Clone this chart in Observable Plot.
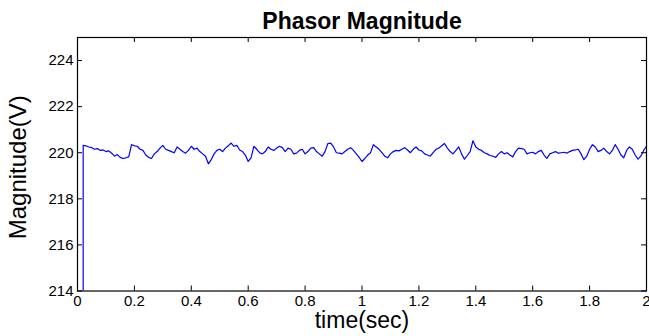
<!DOCTYPE html>
<html><head><meta charset="utf-8">
<script src="https://cdn.jsdelivr.net/npm/d3@7"></script>
<script src="https://cdn.jsdelivr.net/npm/@observablehq/plot@0.6"></script>
<style>body{margin:0;background:#fff} svg{display:block}</style>
</head><body><div id="chart"></div>
<script>
const times = [0.019,
0.02,0.03,0.04,0.05,0.06,0.07,0.08,0.09,0.10,
0.11,0.12,0.13,0.14,0.15,0.16,0.17,0.18,0.19,0.20,
0.21,0.22,0.23,0.24,0.25,0.26,0.27,0.28,0.29,0.30,
0.31,0.32,0.33,0.34,0.35,0.36,0.37,0.38,0.39,0.40,
0.41,0.42,0.43,0.44,0.45,0.46,0.47,0.48,0.49,0.50,
0.51,0.52,0.53,0.54,0.55,0.56,0.57,0.58,0.59,0.60,
0.61,0.62,0.63,0.64,0.65,0.66,0.67,0.68,0.69,0.70,
0.71,0.72,0.73,0.74,0.75,0.76,0.77,0.78,0.79,0.80,
0.81,0.82,0.83,0.84,0.85,0.86,0.87,0.88,0.89,0.90,
0.91,0.92,0.93,0.94,0.95,0.96,0.97,0.98,0.99,1.00,
1.01,1.02,1.03,1.04,1.05,1.06,1.07,1.08,1.09,1.10,
1.11,1.12,1.13,1.14,1.15,1.16,1.17,1.18,1.19,1.20,
1.21,1.22,1.23,1.24,1.25,1.26,1.27,1.28,1.29,1.30,
1.31,1.32,1.33,1.34,1.35,1.36,1.37,1.38,1.39,1.40,
1.41,1.42,1.43,1.44,1.45,1.46,1.47,1.48,1.49,1.50,
1.51,1.52,1.53,1.54,1.55,1.56,1.57,1.58,1.59,1.60,
1.61,1.62,1.63,1.64,1.65,1.66,1.67,1.68,1.69,1.70,
1.71,1.72,1.73,1.74,1.75,1.76,1.77,1.78,1.79,1.80,
1.81,1.82,1.83,1.84,1.85,1.86,1.87,1.88,1.89,1.90,
1.91,1.92,1.93,1.94,1.95,1.96,1.97,1.98,1.99,2.00];

const magnitude = [0,
220.32,220.30,220.25,220.22,220.15,220.18,220.10,220.12,220.05,
220.08,219.98,219.85,219.92,219.80,219.75,219.78,219.82,220.35,220.30,
220.28,220.15,220.10,219.90,219.80,219.75,219.95,220.05,220.20,220.32,
220.15,220.10,220.05,220.00,220.25,220.15,220.05,219.98,220.10,220.28,
220.15,220.20,220.05,219.95,219.85,219.52,219.70,219.95,220.10,220.15,
220.05,220.20,220.30,220.42,220.28,220.32,220.12,220.05,219.90,219.62,
219.78,220.28,220.15,220.00,219.95,220.05,220.25,220.15,220.10,220.20,
220.28,220.22,220.05,220.20,220.15,219.95,219.98,220.10,220.15,219.95,
220.05,220.20,220.22,220.05,219.95,219.85,220.05,220.40,220.42,220.25,
220.00,219.98,219.95,220.05,220.15,220.22,220.10,219.95,219.80,219.62,
219.75,219.90,220.00,220.35,220.25,220.15,220.00,219.85,219.78,219.95,
220.05,220.10,220.08,220.15,220.22,220.12,220.00,220.15,220.25,220.12,
220.08,219.95,219.90,219.85,220.00,220.15,220.20,220.30,220.40,220.20,
220.05,219.95,220.10,220.25,219.95,219.72,219.88,220.05,220.52,220.25,
220.15,220.10,220.00,219.95,219.88,219.85,219.80,219.95,220.05,219.95,
220.00,219.90,219.82,220.05,220.20,220.18,220.15,219.95,220.00,220.02,
219.95,220.05,220.10,219.90,219.75,219.95,220.00,220.05,219.98,220.00,
220.02,219.98,220.05,220.10,220.12,220.15,219.95,219.70,219.85,220.15,
220.35,220.25,220.05,220.10,220.20,220.05,219.95,220.10,220.35,220.15,
219.90,219.78,220.10,220.25,220.15,219.90,219.72,219.85,220.10,220.28];

const xTicks = [0,0.2,0.4,0.6,0.8,1,1.2,1.4,1.6,1.8,2];
const xTickLabels = ["0","0.2","0.4","0.6","0.8","1","1.2","1.4","1.6","1.8","2"];
const yTicks = [214,216,218,220,222,224];
const yTickLabels = ["214","216","218","220","222","224"];
const title = "Phasor Magnitude";
const xLabel = "time(sec)";
const yLabel = "Magnitude(V)";

const data = times.map((t, i) => ({t, v: magnitude[i]}));

const W = 649, H = 336, mT = 37, mB = 45.5, mL = 77, mR = 3;
const innerW = W - mL - mR, innerH = H - mT - mB;
const font = "'Liberation Sans', Arial, Helvetica, sans-serif";

const chart = Plot.plot({
  width: W, height: H,
  marginTop: mT, marginBottom: mB, marginLeft: mL, marginRight: mR,
  style: {fontFamily: font, fontSize: "15px", background: "#fff", overflow: "visible", color: "#000"},
  x: {domain: [0, 2], axis: null},
  y: {domain: [214, 225], axis: null},
  marks: [
    Plot.line(data, {x: "t", y: "v", stroke: "#0000ff", strokeWidth: 1.2, clip: true}),
    Plot.ruleX(xTicks, {insetTop: innerH - 5, stroke: "#000", strokeWidth: 1}),
    Plot.ruleX(xTicks, {insetBottom: innerH - 5, stroke: "#000", strokeWidth: 1}),
    Plot.ruleY(yTicks, {insetRight: innerW - 5, stroke: "#000", strokeWidth: 1}),
    Plot.ruleY(yTicks, {insetLeft: innerW - 5, stroke: "#000", strokeWidth: 1}),
    Plot.frame({stroke: "#000", strokeWidth: 1.2}),
    Plot.axisX(xTicks, {anchor: "bottom", tickSize: 0, tickPadding: 4, fontSize: 15,
      tickFormat: d => xTickLabels[xTicks.indexOf(d)], label: null}),
    Plot.axisY(yTicks, {anchor: "left", tickSize: 0, tickPadding: 4, fontSize: 15,
      tickFormat: d => yTickLabels[yTicks.indexOf(d)], label: null}),
    Plot.text([title], {frameAnchor: "top", dy: -9, lineAnchor: "bottom", textAnchor: "middle", fontWeight: "bold", fontSize: 23}),
    Plot.text([xLabel], {frameAnchor: "bottom", dy: 37, lineAnchor: "bottom", textAnchor: "middle", fontSize: 23}),
    Plot.text([yLabel], {frameAnchor: "left", dx: -59, dy: 3, rotate: -90, lineAnchor: "middle", textAnchor: "middle", fontSize: 24})
  ]
});
document.getElementById("chart").appendChild(chart);
</script>
</body></html>
